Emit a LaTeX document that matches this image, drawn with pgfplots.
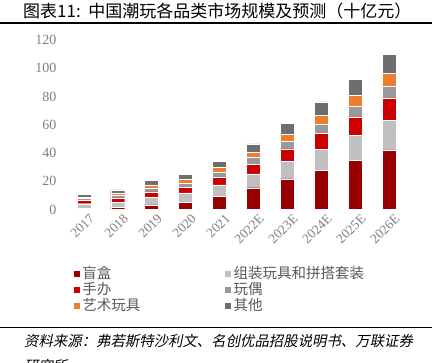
\documentclass[border=0pt]{standalone}
\usepackage{fontspec}
\setmainfont{Liberation Serif}
\newfontfamily\cjk{Noto Sans CJK SC}
\newfontfamily\cjkit[FakeSlant=0.2]{Noto Sans CJK SC}
\usepackage{pgfplots}
\pgfplotsset{compat=1.18}
\usepackage{pgfplotstable}
\definecolor{cDR}{HTML}{990000}
\definecolor{cLG}{HTML}{C0C0C0}
\definecolor{cR}{HTML}{CC0000}
\definecolor{cG}{HTML}{999999}
\definecolor{cO}{HTML}{ED7D31}
\definecolor{cDG}{HTML}{6E6E6E}
\definecolor{tickgray}{HTML}{7F7F7F}
\definecolor{leggray}{HTML}{595959}

\pgfplotstableread{
x mh zz sb wo ys qt
0 0.6 3.5 2.4 1.6 0.9 1.9
1 1.6 3.7 3.0 2.1 1.4 2.1
2 3.2 5.6 3.7 2.8 2.1 3.3
3 5.3 6.4 4.2 2.8 2.6 3.5
4 9.5 8.0 5.4 3.7 3.1 4.4
5 15.4 9.9 6.8 4.7 3.5 6.1
6 21.7 12.3 8.9 5.4 4.9 7.8
7 27.9 14.8 11.1 6.6 6.4 9.4
8 34.7 17.6 13.4 7.5 7.6 11.3
9 42.2 20.8 16.0 8.5 8.8 13.6
}\data

\begin{document}
\begin{tikzpicture}
\path[use as bounding box] (0pt,0pt) rectangle (432pt,363pt);
\node[anchor=west, inner sep=0pt] at (23pt,351.5pt) {\cjk\fontsize{17}{20}\selectfont 图表11:\ \ 中国潮玩各品类市场规模及预测（十亿元）};
\draw[line width=1.6pt] (0pt,340pt) -- (432pt,340pt);
\draw[line width=1.6pt] (0pt,35.5pt) -- (432pt,35.5pt);
\node[anchor=west, inner sep=0pt] at (24pt,22.3pt) {\cjkit\fontsize{14.4}{17}\selectfont 资料来源：弗若斯特沙利文、名创优品招股说明书、万联证券};
\node[anchor=west, inner sep=0pt] at (24pt,-3pt) {\cjkit\fontsize{14.4}{17}\selectfont 研究所};
\begin{axis}[
  at={(60pt,153.5pt)}, anchor=south west,
  scale only axis, width=353pt, height=169.5pt,
  ybar stacked, bar width=14pt,
  xmin=-0.7, xmax=9.7, ymin=0, ymax=120,
  ytick={0,20,...,120},
  xtick={0,...,9},
  xticklabels={2017,2018,2019,2020,2021,2022E,2023E,2024E,2025E,2026E},
  axis x line*=bottom, axis y line*=left,
  axis line style={draw=none},
  major tick style={draw=none},
  /pgf/number format/assume math mode=true,
  yticklabel style={font=\fontsize{14}{16}\selectfont, color=tickgray},
  xticklabel style={font=\fontsize{13.5}{16}\selectfont, color=tickgray, rotate=45, anchor=north east, inner sep=1pt, yshift=-5pt, xshift=2pt},
  legend columns=2,
  legend cell align=left,
  legend style={draw=none, fill=none, at={(axis description cs:0.028,-0.31)}, anchor=north west,
    font=\cjk\fontsize{14.5}{16}\selectfont\color{leggray},
    /tikz/every even column/.append style={column sep=82pt},
    row sep=-1.5pt},
  legend image code/.code={\fill[#1] (0pt,-3.5pt) rectangle (7pt,3.5pt);},
  every axis plot/.append style={draw=white, line width=0.3pt},
]
\addplot[fill=cDR] table[x=x,y=mh]{\data};
\addplot[fill=cLG] table[x=x,y=zz]{\data};
\addplot[fill=cR] table[x=x,y=sb]{\data};
\addplot[fill=cG] table[x=x,y=wo]{\data};
\addplot[fill=cO] table[x=x,y=ys]{\data};
\addplot[fill=cDG] table[x=x,y=qt]{\data};
\legend{盲盒,组装玩具和拼搭套装,手办,玩偶,艺术玩具,其他}
\end{axis}
\end{tikzpicture}
\end{document}
